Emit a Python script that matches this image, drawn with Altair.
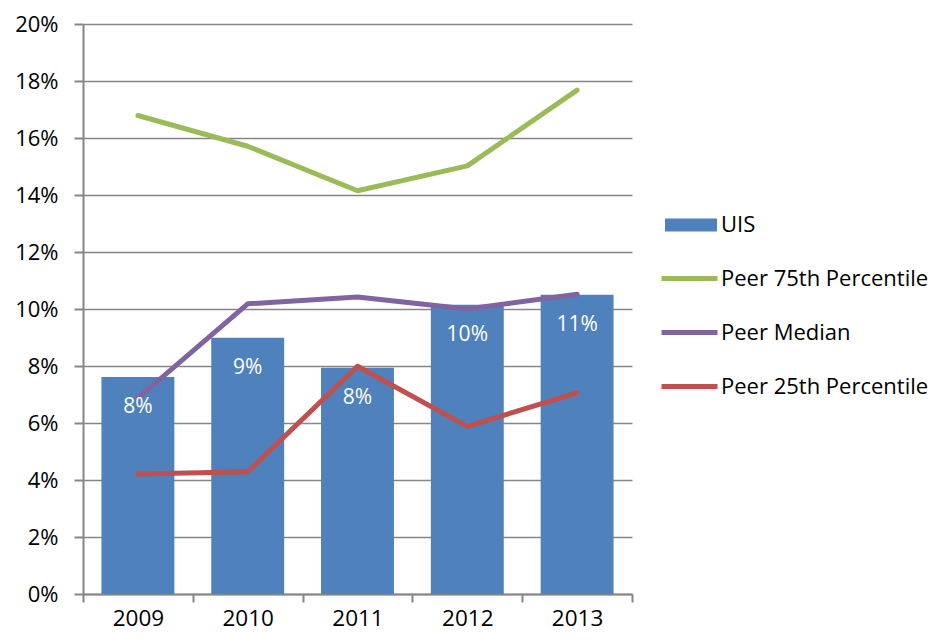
import altair as alt
import pandas as pd

years = ["2009", "2010", "2011", "2012", "2013"]
uis = [0.0761, 0.0899, 0.0794, 0.1015, 0.1050]
uis_labels = ["8%", "9%", "8%", "10%", "11%"]
p75 = [0.1679, 0.1571, 0.1415, 0.1502, 0.1768]
median = [0.0687, 0.1018, 0.1042, 0.1000, 0.1052]
p25 = [0.0421, 0.0429, 0.0799, 0.0588, 0.0706]
line_names = ["Peer 75th Percentile", "Peer Median", "Peer 25th Percentile"]
line_colors = ["#9bbb59", "#8064a2", "#c0504d"]
bar_name = "UIS"
bar_color = "#4f81bd"
y_ticks = [0, 0.02, 0.04, 0.06, 0.08, 0.10, 0.12, 0.14, 0.16, 0.18, 0.20]

FONT = "Open Sans"
GRID = "#868686"

bars_df = pd.DataFrame({"year": years, "value": uis, "label": uis_labels, "series": bar_name})
rows = []
for name, vals in zip(line_names, [p75, median, p25]):
    for y, v in zip(years, vals):
        rows.append({"year": y, "value": v, "series": name})
lines_df = pd.DataFrame(rows)

x_enc = alt.X(
    "year:N",
    scale=alt.Scale(domain=years, paddingInner=0, paddingOuter=0),
    axis=alt.Axis(
        title=None, labelAngle=0, tickBand="extent", ticks=True, tickSize=8,
        tickColor=GRID, tickWidth=2, domainColor=GRID, domainWidth=2,
        labelFont=FONT, labelFontSize=22.5, labelColor="black", labelPadding=5,
    ),
)
y_scale = alt.Scale(domain=[0, 0.2], nice=False)

bars = alt.Chart(bars_df).mark_bar(width=alt.RelativeBandSize(0.664)).encode(
    x=x_enc,
    y=alt.Y(
        "value:Q", scale=y_scale,
        axis=alt.Axis(
            title=None, values=y_ticks, format=".0%", grid=True, gridColor=GRID,
            gridWidth=1.5, domainColor=GRID, domainWidth=2, tickColor=GRID,
            tickWidth=2, tickSize=9, labelFont=FONT, labelFontSize=22,
            labelColor="black", labelPadding=16,
        ),
    ),
    fill=alt.Fill(
        "series:N",
        scale=alt.Scale(domain=[bar_name], range=[bar_color]),
        legend=alt.Legend(
            title=None, orient="none", legendX=582, legendY=175,
            symbolType="M-1,-0.25L1,-0.25L1,0.25L-1,0.25Z", symbolSize=2704,
            symbolStrokeWidth=0, symbolOpacity=1, labelFont=FONT, labelFontSize=22,
            labelColor="black", labelOffset=4, labelLimit=300, padding=0,
        ),
    ),
)

lines = alt.Chart(lines_df).mark_line(strokeWidth=5, strokeCap="round", strokeJoin="round").encode(
    x=alt.X("year:N"),
    y=alt.Y("value:Q", scale=y_scale),
    stroke=alt.Stroke(
        "series:N",
        scale=alt.Scale(domain=line_names, range=line_colors),
        legend=alt.Legend(
            title=None, orient="none", legendX=576, legendY=224,
            symbolType="stroke", symbolSize=3136, symbolStrokeWidth=5,
            labelFont=FONT, labelFontSize=22, labelColor="black", labelOffset=1,
            labelLimit=300, rowPadding=12, padding=0,
        ),
    ),
    detail="series:N",
)

labels = alt.Chart(bars_df).mark_text(
    color="white", font=FONT, fontSize=21, baseline="middle", dy=30
).encode(
    x=alt.X("year:N"),
    y=alt.Y("value:Q", scale=y_scale),
    text="label:N",
)

chart = (
    alt.layer(bars, lines, labels)
    .resolve_scale(fill="independent", stroke="independent")
    .properties(
        width=549, height=570,
        autosize=alt.AutoSizeParams(type="none"),
        padding={"left": 75, "top": 16, "right": 304, "bottom": 38},
        background="white",
    )
    .configure_view(stroke=None)
)

chart.save("out.html", embed_options={"renderer": "svg", "actions": False})
